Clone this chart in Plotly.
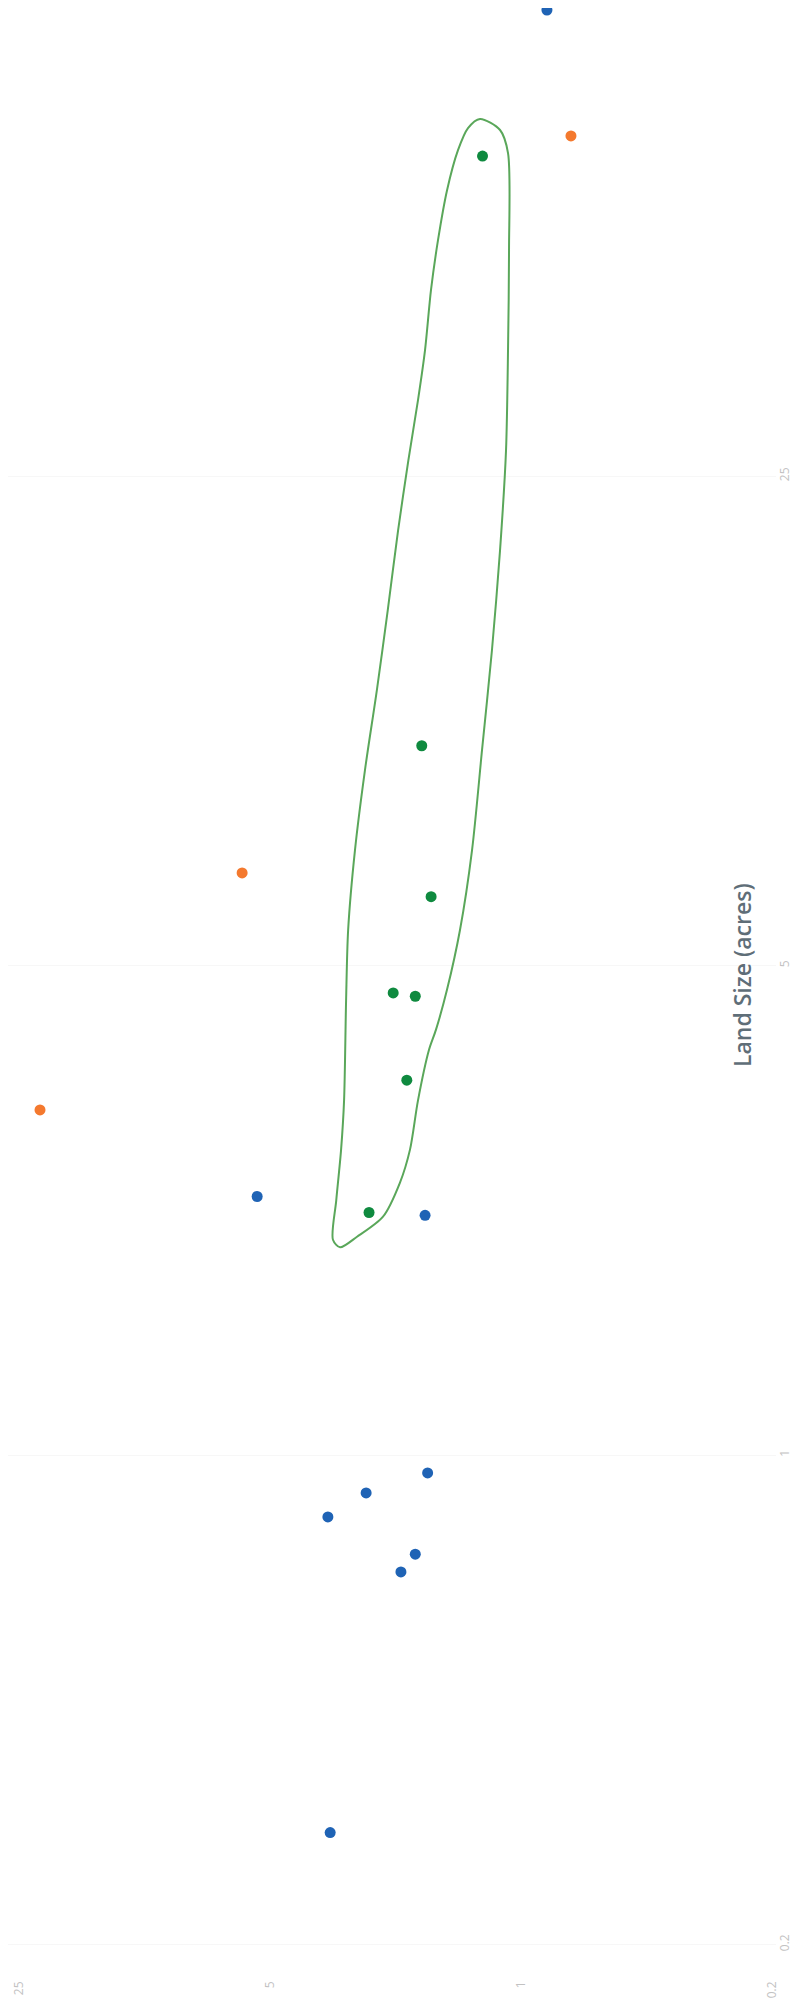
import plotly.graph_objects as go

# Horizontal axis variable (log, increasing to the left) and Land Size (log, increasing upward)
blue_val = [0.847, 5.43, 1.85, 1.82, 2.70, 3.45, 1.97, 2.16, 3.40]
blue_land = [115.7, 2.34, 2.20, 0.943, 0.883, 0.816, 0.722, 0.681, 0.289]

orange_val = [0.726, 5.98, 21.85]
orange_land = [76.5, 6.78, 3.11]

green_val = [1.28, 1.89, 1.78, 2.27, 1.97, 2.08, 2.65]
green_land = [71.6, 10.3, 6.27, 4.57, 4.52, 3.43, 2.22]

# hand-drawn loop around the green group, in data units
loop_val = [1.301, 1.144, 1.087, 1.080, 1.087, 1.101, 1.144, 1.205, 1.284, 1.369,
            1.479, 1.607, 1.725, 1.804, 1.936, 2.038, 2.173, 2.423, 2.862, 3.19,
            3.34, 3.27, 3.17, 3.11, 3.07, 3.03, 2.90, 2.72, 2.52, 2.35,
            2.20, 2.06, 1.936, 1.851, 1.781, 1.703, 1.607, 1.498, 1.405, 1.301]
loop_land = [80.9, 78.0, 72.3, 52.6, 37.8, 27.2, 19.6, 14.1, 10.16, 7.31,
             5.62, 4.62, 4.05, 3.79, 3.21, 2.73, 2.45, 2.19, 2.05, 1.98,
             2.03, 2.31, 2.73, 3.21, 4.46, 5.62, 7.31, 9.51, 12.37, 16.09,
             20.9, 26.3, 32.1, 37.8, 46.1, 54.3, 64.0, 73.0, 78.5, 80.9]

tick_vals = [0.2, 1, 5, 25]
tick_text = ["0.2", "1", "5", "25"]

fig = go.Figure()
fig.add_trace(go.Scatter(x=loop_val, y=loop_land, mode="lines",
                         line=dict(color="#5aa75a", width=2, shape="spline", smoothing=0.8),
                         hoverinfo="skip", showlegend=False))
fig.add_trace(go.Scatter(x=blue_val, y=blue_land, mode="markers", cliponaxis=False,
                         marker=dict(color="#1f63b5", size=11), showlegend=False))
fig.add_trace(go.Scatter(x=orange_val, y=orange_land, mode="markers", cliponaxis=False,
                         marker=dict(color="#f4792e", size=11), showlegend=False))
fig.add_trace(go.Scatter(x=green_val, y=green_land, mode="markers", cliponaxis=False,
                         marker=dict(color="#0f8a3f", size=11), showlegend=False))

fig.update_layout(
    width=800, height=2007,
    margin=dict(l=0, r=32, t=0, b=37),
    paper_bgcolor="white", plot_bgcolor="white",
    font=dict(family="Open Sans", color="#c0c0c0", size=12),
    xaxis=dict(type="log", range=[1.4286, -0.710], tickvals=tick_vals, ticktext=tick_text,
               tickangle=-90, showgrid=False, zeroline=False, showline=False,
               automargin=False, tickfont=dict(color="#c2c2c2", size=12)),
    yaxis=dict(type="log", range=[-0.7467, 2.0663], side="right", tickvals=tick_vals,
               ticktext=tick_text, tickangle=-90, showgrid=True, gridcolor="#f7f7f7",
               zeroline=False, showline=False, automargin=False,
               tickfont=dict(color="#c2c2c2", size=12)),
    annotations=[dict(text="Land Size (acres)", xref="paper", yref="paper",
                      x=0.9557, y=0.5091, xanchor="center", yanchor="middle",
                      showarrow=False, textangle=-90,
                      font=dict(family="Open Sans", size=23, color="#5f6e78", weight=600))],
)

fig.write_html("out.html")
